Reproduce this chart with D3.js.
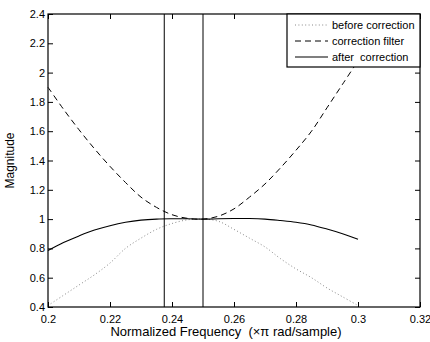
<!DOCTYPE html>
<html>
<head>
<meta charset="utf-8">
<script src="https://cdn.jsdelivr.net/npm/d3@7"></script>
<style>
  body { margin: 0; background: #fff; }
  text { font-family: "Liberation Sans", Arial, sans-serif; }
</style>
</head>
<body>
<div id="chart"></div>
<script>
// frequency grid (x pi rad/sample)
const freq = [0.200, 0.205, 0.210, 0.215, 0.220, 0.225, 0.230, 0.235, 0.240, 0.245, 0.250,
              0.255, 0.260, 0.265, 0.270, 0.275, 0.280, 0.285, 0.290, 0.295, 0.300];
const beforeCorr = [0.41, 0.48, 0.55, 0.62, 0.70, 0.80, 0.87, 0.93, 0.97, 0.995, 1.0,
                    0.985, 0.93, 0.87, 0.81, 0.73, 0.66, 0.60, 0.53, 0.47, 0.41];
const corrFilter = [1.90, 1.75, 1.61, 1.48, 1.36, 1.25, 1.15, 1.08, 1.03, 1.005, 1.0,
                    1.02, 1.07, 1.15, 1.24, 1.35, 1.47, 1.60, 1.76, 1.92, 2.08];
const afterCorr = [0.785, 0.84, 0.885, 0.925, 0.955, 0.978, 0.993, 1.0, 1.002, 1.002, 1.0,
                   1.002, 1.004, 1.004, 1.0, 0.99, 0.978, 0.96, 0.932, 0.90, 0.862];
const vlines = [0.2375, 0.25];
const xTicks = [0.2, 0.22, 0.24, 0.26, 0.28, 0.3, 0.32];
const yTicks = [0.4, 0.6, 0.8, 1, 1.2, 1.4, 1.6, 1.8, 2, 2.2, 2.4];
const legendLabels = ["before correction", "correction filter", "after  correction"];

const W = 430, H = 342;
const axL0 = 48, axR0 = 420, axT0 = 14, axB0 = 307;

const svg = d3.select("#chart").append("svg")
  .attr("width", W).attr("height", H);

const x = d3.scaleLinear().domain([0.2, 0.32]).range([axL0, axR0]);
const y = d3.scaleLinear().domain([0.4, 2.4]).range([axB0, axT0]);

const styles = [
  { dash: "1,2.4", color: "#888", width: 1 },
  { dash: "6,4", color: "#000", width: 1 },
  { dash: null, color: "#000", width: 1.1 }
];
const series = [beforeCorr, corrFilter, afterCorr];

const line = d3.line()
  .x((d, i) => x(freq[i]))
  .y(d => y(d))
  .curve(d3.curveCatmullRom);

series.forEach((s, k) => {
  svg.append("path")
    .datum(s)
    .attr("d", line)
    .attr("fill", "none")
    .attr("stroke", styles[k].color)
    .attr("stroke-width", styles[k].width)
    .attr("stroke-dasharray", styles[k].dash);
});

svg.selectAll(".vl").data(vlines).enter().append("line")
  .attr("x1", d => x(d)).attr("x2", d => x(d))
  .attr("y1", axT0).attr("y2", axB0)
  .attr("stroke", "#000").attr("stroke-width", 1);

// axes, MATLAB style: ticks inside on all four sides
const tk = 5;
const axisB = d3.axisBottom(x).tickValues(xTicks).tickSizeInner(-tk).tickSizeOuter(0)
  .tickPadding(8).tickFormat(d3.format("~g"));
const axisT = d3.axisTop(x).tickValues(xTicks).tickSizeInner(-tk).tickSizeOuter(0).tickFormat("");
const axisL = d3.axisLeft(y).tickValues(yTicks).tickSizeInner(-tk).tickSizeOuter(0)
  .tickPadding(3).tickFormat(d3.format("~g"));
const axisR = d3.axisRight(y).tickValues(yTicks).tickSizeInner(-tk).tickSizeOuter(0).tickFormat("");

svg.append("g").attr("transform", `translate(0,${axB0})`).call(axisB);
svg.append("g").attr("transform", `translate(0,${axT0})`).call(axisT);
svg.append("g").attr("transform", `translate(${axL0},0)`).call(axisL);
svg.append("g").attr("transform", `translate(${axR0},0)`).call(axisR);

svg.selectAll(".domain").remove();
svg.selectAll(".tick line").attr("stroke", "#000");
svg.selectAll(".tick text").attr("font-size", 11).attr("fill", "#000")
  .attr("font-family", "Liberation Sans, Arial, sans-serif");

svg.append("rect")
  .attr("x", axL0).attr("y", axT0)
  .attr("width", axR0 - axL0).attr("height", axB0 - axT0)
  .attr("fill", "none").attr("stroke", "#000").attr("stroke-width", 1.2);

// legend
const lg = svg.append("g");
lg.append("rect")
  .attr("x", 287).attr("y", axT0)
  .attr("width", axR0 - 287).attr("height", 53)
  .attr("fill", "#fff").attr("stroke", "#000").attr("stroke-width", 1.2);
legendLabels.forEach((lab, k) => {
  const yy = 25 + k * 16;
  lg.append("line")
    .attr("x1", 295).attr("x2", 328).attr("y1", yy).attr("y2", yy)
    .attr("stroke", styles[k].color).attr("stroke-width", styles[k].width)
    .attr("stroke-dasharray", styles[k].dash);
  lg.append("text")
    .attr("x", 332).attr("y", yy + 4)
    .attr("font-size", 11)
    .style("white-space", "pre")
    .text(lab);
});

// axis labels
svg.append("text")
  .attr("x", 226).attr("y", 336)
  .attr("text-anchor", "middle").attr("font-size", 13)
  .style("white-space", "pre")
  .text("Normalized Frequency  (\u00d7\u03c0 rad/sample)");

svg.append("text")
  .attr("transform", `translate(14,${(axT0 + axB0) / 2}) rotate(-90)`)
  .attr("text-anchor", "middle").attr("font-size", 12)
  .text("Magnitude");
</script>
</body>
</html>
